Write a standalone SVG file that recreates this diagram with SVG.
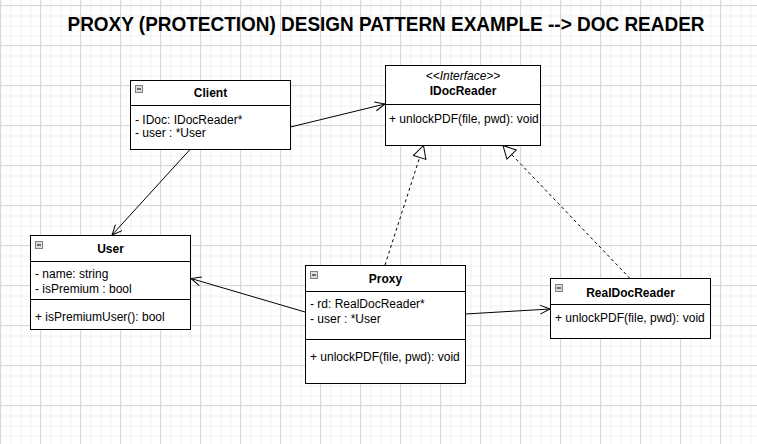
<svg xmlns="http://www.w3.org/2000/svg" width="757" height="444" viewBox="0 0 757 444">
<style>
.box{fill:#ffffff;stroke:#000000;stroke-width:1}
.sep{stroke:#000000;stroke-width:1}
.t{font-family:"Liberation Sans",Arial,sans-serif;font-size:12px;fill:#000000}
.b{font-weight:bold;text-anchor:middle}
.i{font-style:italic;text-anchor:middle}
.ic{fill:#dddddd;stroke:#808080;stroke-width:1}
.icm{stroke:#000000;stroke-width:1}
.edge{fill:none;stroke:#000000;stroke-width:1}
.dash{stroke-dasharray:3 3}
.title{font-family:"Liberation Sans",Arial,sans-serif;font-size:20px;font-weight:bold;text-anchor:middle;fill:#000000}
</style>
<defs>
<pattern id="minor" x="0" y="5" width="10" height="10" patternUnits="userSpaceOnUse">
<path d="M1,0 V10 M0,1 H10" stroke="#f1f1f1" stroke-width="1" fill="none"/>
</pattern>
<pattern id="major" x="0" y="5" width="40" height="40" patternUnits="userSpaceOnUse">
<path d="M0.5,0 V40 M0,0.5 H40" stroke="#d9d9d9" stroke-width="1" fill="none"/>
</pattern>
<marker id="open" viewBox="-11 -6 12 12" refX="0" refY="0" markerWidth="12" markerHeight="12" markerUnits="userSpaceOnUse" orient="auto">
<path d="M-10,-4.5 L0,0 L-10,4.5" fill="none" stroke="#000000" stroke-width="1"/>
</marker>
<marker id="tri" viewBox="-14 -8 15 16" refX="0" refY="0" markerWidth="15" markerHeight="16" markerUnits="userSpaceOnUse" orient="auto">
<path d="M-12.5,-6.5 L0,0 L-12.5,6.5 Z" fill="#ffffff" stroke="#000000" stroke-width="1"/>
</marker>
</defs>
<rect x="0" y="0" width="757" height="444" fill="#ffffff"/>
<rect x="0" y="0" width="757" height="444" fill="url(#minor)"/>
<rect x="0" y="0" width="757" height="444" fill="url(#major)"/>

<text class="title" x="386" y="31" textLength="637" lengthAdjust="spacingAndGlyphs">PROXY (PROTECTION) DESIGN PATTERN EXAMPLE --&gt; DOC READER</text>

<g id="connectors">
<path class="edge" d="M290.5,127 L385,104" marker-end="url(#open)"/>
<path class="edge" d="M190,149.5 L112,235" marker-end="url(#open)"/>
<path class="edge" d="M305,312 L191,278.5" marker-end="url(#open)"/>
<path class="edge" d="M465.5,314 L550,309" marker-end="url(#open)"/>
<path class="edge dash" d="M385,265 L423.5,145.5" marker-end="url(#tri)"/>
<path class="edge dash" d="M630,278.5 L503,145.5" marker-end="url(#tri)"/>
</g>

<g id="client">
<rect class="box" x="130.5" y="80.5" width="160" height="69"/>
<line class="sep" x1="130.5" y1="105.5" x2="290.5" y2="105.5"/>
<rect class="ic" x="135.5" y="85.5" width="7" height="7"/>
<line class="icm" x1="137" y1="89" x2="141" y2="89"/>
<text class="t b" x="210.5" y="97">Client</text>
<text class="t" x="135" y="123.5">- IDoc: IDocReader*</text>
<text class="t" x="135" y="137">- user : *User</text>
</g>

<g id="idocreader">
<rect class="box" x="385.5" y="65.5" width="155" height="80"/>
<line class="sep" x1="385.5" y1="104.5" x2="540.5" y2="104.5"/>
<text class="t i" x="463" y="80">&lt;&lt;Interface&gt;&gt;</text>
<text class="t b" x="463" y="94.5">IDocReader</text>
<text class="t" x="389" y="123">+ unlockPDF(file, pwd): void</text>
</g>

<g id="user">
<rect class="box" x="30.5" y="235.5" width="160" height="94"/>
<line class="sep" x1="30.5" y1="261.5" x2="190.5" y2="261.5"/>
<line class="sep" x1="30.5" y1="299.5" x2="190.5" y2="299.5"/>
<rect class="ic" x="35.5" y="241.5" width="7" height="7"/>
<line class="icm" x1="37" y1="245" x2="41" y2="245"/>
<text class="t b" x="110.5" y="253">User</text>
<text class="t" x="35" y="278">- name: string</text>
<text class="t" x="35" y="292.5">- isPremium : bool</text>
<text class="t" x="35" y="320.5">+ isPremiumUser(): bool</text>
</g>

<g id="proxy">
<rect class="box" x="305.5" y="265.5" width="160" height="118"/>
<line class="sep" x1="305.5" y1="291.5" x2="465.5" y2="291.5"/>
<line class="sep" x1="305.5" y1="339.5" x2="465.5" y2="339.5"/>
<rect class="ic" x="310.5" y="271.5" width="7" height="7"/>
<line class="icm" x1="312" y1="275" x2="316" y2="275"/>
<text class="t b" x="385.5" y="282.5">Proxy</text>
<text class="t" x="310" y="307.5">- rd: RealDocReader*</text>
<text class="t" x="310" y="322.5">- user : *User</text>
<text class="t" x="310" y="361">+ unlockPDF(file, pwd): void</text>
</g>

<g id="realdocreader">
<rect class="box" x="550.5" y="278.5" width="160" height="60"/>
<line class="sep" x1="550.5" y1="304.5" x2="710.5" y2="304.5"/>
<rect class="ic" x="555.5" y="284.5" width="7" height="7"/>
<line class="icm" x1="557" y1="288" x2="561" y2="288"/>
<text class="t b" x="630.5" y="296.5">RealDocReader</text>
<text class="t" x="555" y="322">+ unlockPDF(file, pwd): void</text>
</g>
</svg>
